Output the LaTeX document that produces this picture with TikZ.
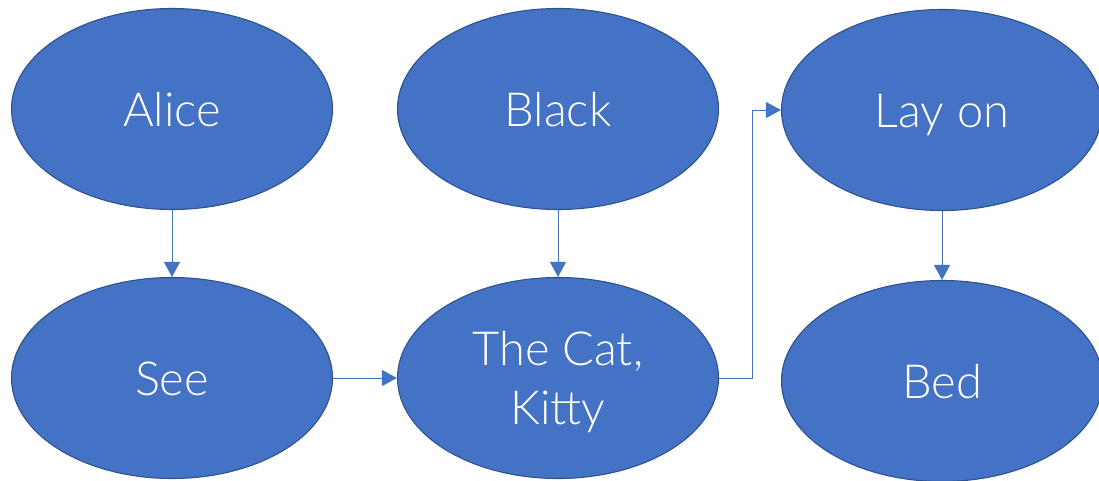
\documentclass[tikz,border=0pt]{standalone}
\usepackage{fontspec}
\setmainfont{Lato}[UprightFont=* Light]
\usetikzlibrary{shapes.geometric,arrows.meta}
\definecolor{nodefill}{HTML}{4472C4}
\definecolor{nodeedge}{HTML}{2F528F}
\definecolor{linkcol}{HTML}{4472C4}
\begin{document}
\begin{tikzpicture}[x=1pt,y=-1pt,
  % filled ellipse; text box fixed to cap height so words sit centred
  bubble/.style={ellipse, fill=nodefill, draw=nodeedge, line width=1.1pt,
    minimum width=321pt, minimum height=201pt, inner sep=0pt,
    text=white, align=center, text height=34pt, text depth=0pt,
    font=\fontsize{47pt}{59pt}\selectfont},
  link/.style={draw=linkcol, line width=1pt,
    -{Triangle[length=15pt,width=16pt]}}]
\useasboundingbox (0,0) rectangle (1099,480);

\node[bubble] (alice) at (172,109) {Alice};
\node[bubble] (black) at (558,109) {Black};
\node[bubble] (layon) at (942,110) {Lay on};
\node[bubble] (see)   at (172,378) {See};
% two lines: height covers both so the pair is centred
\node[bubble, text height=93pt] (cat) at (558,378) {The Cat,\\Kitty};
\node[bubble] (bed)   at (942,381) {Bed};

\draw[link] (alice) -- (see);
\draw[link] (black) -- (cat);
\draw[link] (layon) -- (bed);
\draw[link] (see) -- (cat);
\draw[link] (cat.east) -- ++(33,0) |- (layon.west);
\end{tikzpicture}
\end{document}
